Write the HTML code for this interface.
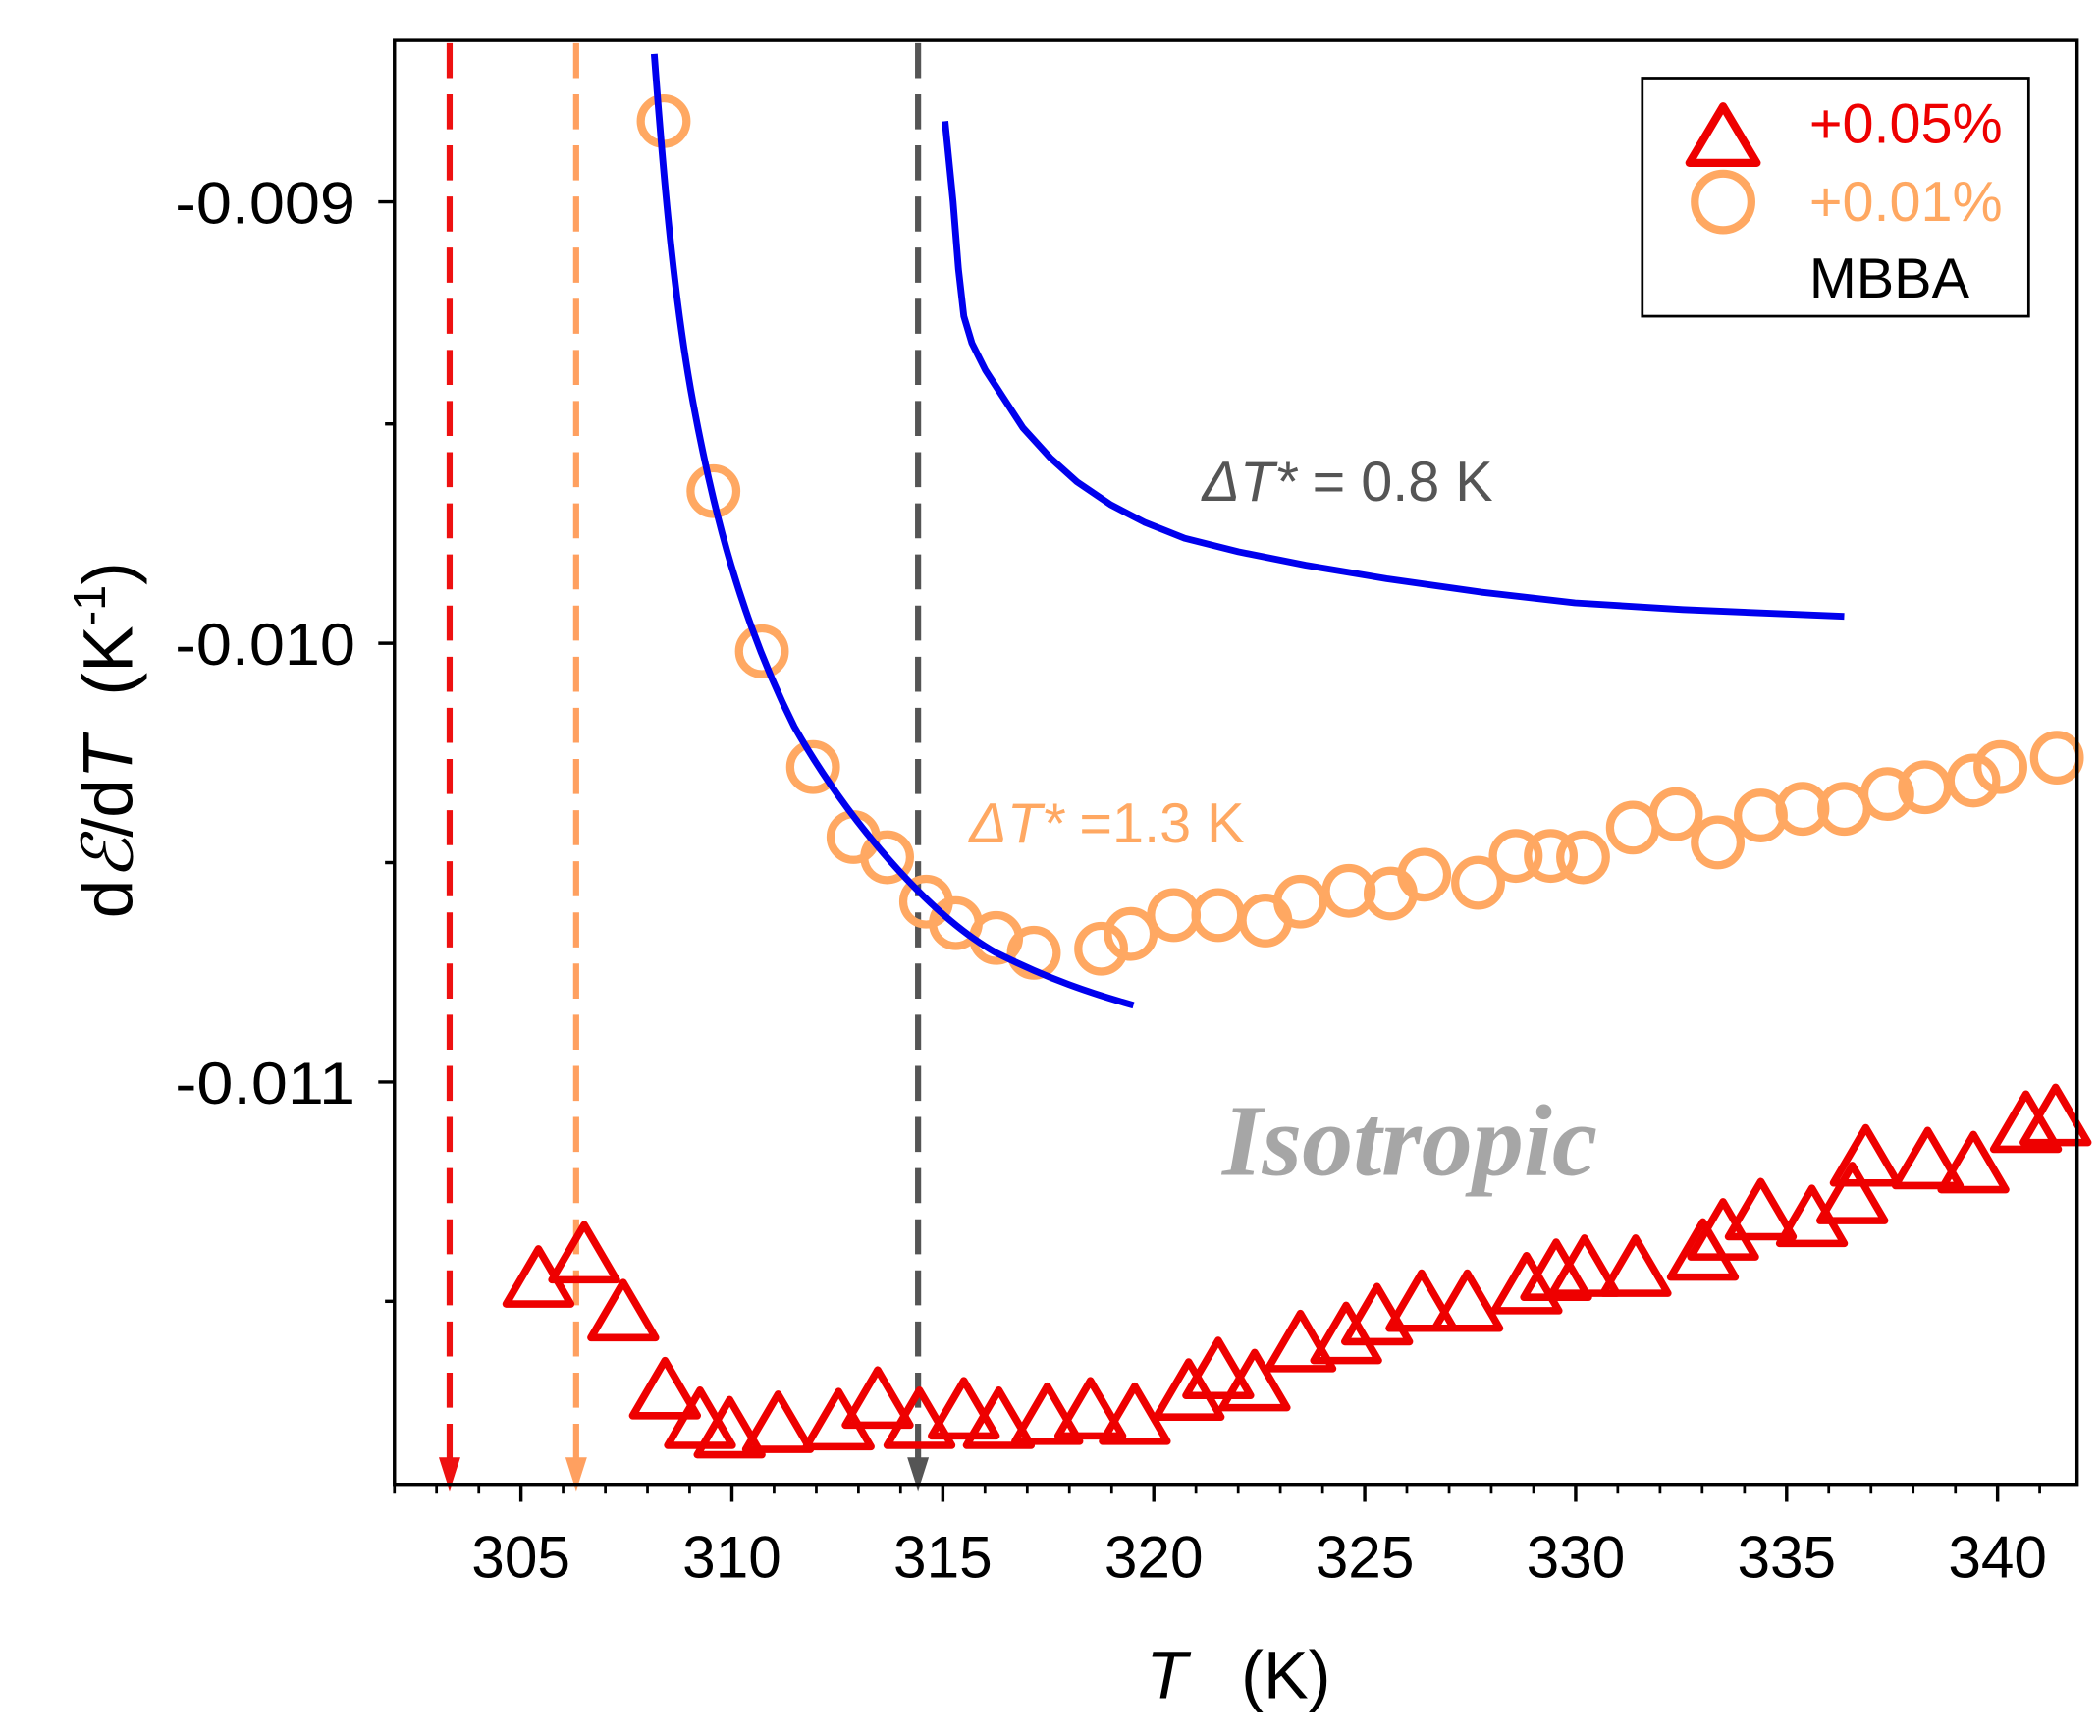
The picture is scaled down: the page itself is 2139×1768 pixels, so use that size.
<!DOCTYPE html>
<html><head><style>html,body{margin:0;padding:0;background:#fff}svg{display:block}</style></head>
<body>
<svg width="2139" height="1768" viewBox="0 0 1560 1290" preserveAspectRatio="none" xmlns="http://www.w3.org/2000/svg" font-family="Liberation Sans, Arial, sans-serif">
<rect x="0" y="0" width="1560" height="1290" fill="#fff"/>
<g stroke-width="4.5" stroke-dasharray="26,12" fill="none">
<line x1="334" y1="32" x2="334" y2="1090" stroke="#ee1111"/>
<line x1="428" y1="32" x2="428" y2="1090" stroke="#ffa060"/>
<line x1="682" y1="32" x2="682" y2="1090" stroke="#555"/>
</g>
<polygon points="326,1083 342,1083 334,1108" fill="#ee1111"/>
<polygon points="420,1083 436,1083 428,1108" fill="#ffa060"/>
<polygon points="674,1083 690,1083 682,1108" fill="#555"/>
<g fill="none" stroke="#ffa862" stroke-width="6">
<circle cx="493" cy="90" r="17"/><circle cx="530" cy="365" r="17"/><circle cx="566" cy="484" r="17"/><circle cx="604" cy="570" r="17"/><circle cx="634" cy="622" r="17"/><circle cx="659" cy="637" r="17"/><circle cx="688" cy="670" r="17"/><circle cx="710" cy="686" r="17"/><circle cx="740" cy="697" r="17"/><circle cx="768" cy="708" r="17"/><circle cx="818" cy="705" r="17"/><circle cx="840" cy="694" r="17"/><circle cx="872" cy="680" r="17"/><circle cx="905" cy="680" r="17"/><circle cx="940" cy="684" r="17"/><circle cx="966" cy="670" r="17"/><circle cx="1002" cy="662" r="17"/><circle cx="1033" cy="664" r="17"/><circle cx="1058" cy="650" r="17"/><circle cx="1098" cy="656" r="17"/><circle cx="1126" cy="636" r="17"/><circle cx="1152" cy="636" r="17"/><circle cx="1176" cy="637" r="17"/><circle cx="1213" cy="615" r="17"/><circle cx="1245" cy="605" r="17"/><circle cx="1276" cy="626" r="17"/><circle cx="1308" cy="606" r="17"/><circle cx="1339" cy="601" r="17"/><circle cx="1370" cy="601" r="17"/><circle cx="1402" cy="590" r="17"/><circle cx="1430" cy="585" r="17"/><circle cx="1466" cy="580" r="17"/><circle cx="1486" cy="570" r="17"/><circle cx="1528" cy="563" r="17"/>
</g>
<g fill="none" stroke="#ee0000" stroke-width="5.5" stroke-linejoin="round">
<path d="M400,928 l-24,41 h48z"/><path d="M434,910 l-24,41 h48z"/><path d="M463,953 l-24,41 h48z"/><path d="M494,1011 l-24,41 h48z"/><path d="M520,1033 l-24,41 h48z"/><path d="M542,1040 l-24,41 h48z"/><path d="M578,1036 l-24,41 h48z"/><path d="M623,1034 l-24,41 h48z"/><path d="M652,1018 l-24,41 h48z"/><path d="M683,1033 l-24,41 h48z"/><path d="M716,1026 l-24,41 h48z"/><path d="M742,1033 l-24,41 h48z"/><path d="M778,1030 l-24,41 h48z"/><path d="M810,1026 l-24,41 h48z"/><path d="M843,1030 l-24,41 h48z"/><path d="M883,1012 l-24,41 h48z"/><path d="M905,996 l-24,41 h48z"/><path d="M932,1005 l-24,41 h48z"/><path d="M966,976 l-24,41 h48z"/><path d="M1000,970 l-24,41 h48z"/><path d="M1023,956 l-24,41 h48z"/><path d="M1056,946 l-24,41 h48z"/><path d="M1090,946 l-24,41 h48z"/><path d="M1134,933 l-24,41 h48z"/><path d="M1156,923 l-24,41 h48z"/><path d="M1177,920 l-24,41 h48z"/><path d="M1215,920 l-24,41 h48z"/><path d="M1265,908 l-24,41 h48z"/><path d="M1280,893 l-24,41 h48z"/><path d="M1308,878 l-24,41 h48z"/><path d="M1346,883 l-24,41 h48z"/><path d="M1376,866 l-24,41 h48z"/><path d="M1386,838 l-24,41 h48z"/><path d="M1432,840 l-24,41 h48z"/><path d="M1466,843 l-24,41 h48z"/><path d="M1505,813 l-24,41 h48z"/><path d="M1527,808 l-24,41 h48z"/>
</g>
<g fill="none" stroke="#0000ee" stroke-width="5" stroke-linejoin="round">
<path d="M486,40 C492,120 500,220 515,300 C530,380 550,460 590,540 C630,610 690,680 740,708 C780,728 810,738 842,747"/>
<polyline points="702,90 708,150 712,200 716,235 722,255 732,275 745,295 760,318 780,340 800,358 825,375 850,388 880,400 920,410 970,420 1030,430 1100,440 1170,448 1250,453 1370,458"/>
</g>
<rect x="293" y="30" width="1250" height="1073" fill="none" stroke="#000" stroke-width="2.5"/>
<g stroke="#000" stroke-width="2.5">
<line x1="293" y1="150" x2="281" y2="150"/><line x1="293" y1="478" x2="281" y2="478"/><line x1="293" y1="804" x2="281" y2="804"/>
<line x1="293" y1="315" x2="286" y2="315"/><line x1="293" y1="641" x2="286" y2="641"/><line x1="293" y1="967" x2="286" y2="967"/>
<line x1="387" y1="1103" x2="387" y2="1116"/><line x1="543.7" y1="1103" x2="543.7" y2="1116"/><line x1="700.4" y1="1103" x2="700.4" y2="1116"/><line x1="857.1" y1="1103" x2="857.1" y2="1116"/><line x1="1013.8" y1="1103" x2="1013.8" y2="1116"/><line x1="1170.5" y1="1103" x2="1170.5" y2="1116"/><line x1="1327.2" y1="1103" x2="1327.2" y2="1116"/><line x1="1483.9" y1="1103" x2="1483.9" y2="1116"/>
</g>
<path stroke="#000" stroke-width="2" d="M293.0,1103v7M324.3,1103v7M355.7,1103v7M418.3,1103v7M449.7,1103v7M481.0,1103v7M512.3,1103v7M575.0,1103v7M606.4,1103v7M637.7,1103v7M669.0,1103v7M731.7,1103v7M763.1,1103v7M794.4,1103v7M825.8,1103v7M888.4,1103v7M919.8,1103v7M951.1,1103v7M982.5,1103v7M1045.1,1103v7M1076.5,1103v7M1107.8,1103v7M1139.2,1103v7M1201.8,1103v7M1233.2,1103v7M1264.5,1103v7M1295.9,1103v7M1358.5,1103v7M1389.9,1103v7M1421.2,1103v7M1452.6,1103v7M1515.2,1103v7"/>
<g font-size="44" text-anchor="end" fill="#000">
<text x="264" y="166" textLength="134" lengthAdjust="spacingAndGlyphs">-0.009</text><text x="264" y="494" textLength="134" lengthAdjust="spacingAndGlyphs">-0.010</text><text x="264" y="820" textLength="134" lengthAdjust="spacingAndGlyphs">-0.011</text>
</g>
<g font-size="44" text-anchor="middle" fill="#000">
<text x="387" y="1172">305</text><text x="543.7" y="1172">310</text><text x="700.4" y="1172">315</text><text x="857.1" y="1172">320</text><text x="1013.8" y="1172">325</text><text x="1170.5" y="1172">330</text><text x="1327.2" y="1172">335</text><text x="1483.9" y="1172">340</text>
</g>
<text x="920" y="1262" font-size="50" text-anchor="middle"><tspan font-style="italic">T</tspan><tspan dx="40">(K)</tspan></text>
<text transform="translate(98,550) rotate(-90)" font-size="52" text-anchor="middle">d<tspan font-style="italic">ℰ</tspan>/d<tspan font-style="italic">T</tspan><tspan dx="30">(K</tspan><tspan font-size="34" dy="-20">-1</tspan><tspan dy="20">)</tspan></text>
<text x="893" y="372" font-size="42" fill="#555"><tspan font-style="italic">ΔT*</tspan> = 0.8 K</text>
<text x="720" y="626" font-size="42" fill="#ffa862"><tspan font-style="italic">ΔT*</tspan> =1.3 K</text>
<text x="908" y="873" font-size="76" font-weight="bold" font-style="italic" fill="#a6a6a6" font-family="Liberation Serif, serif">Isotropic</text>
<rect x="1220" y="58" width="287" height="177" fill="#fff" stroke="#000" stroke-width="2"/>
<path d="M1280,79 l-25,42 h50z" fill="none" stroke="#ee0000" stroke-width="6" stroke-linejoin="round"/>
<circle cx="1280" cy="150" r="21" fill="none" stroke="#ffa862" stroke-width="6"/>
<text x="1344" y="106" font-size="42" fill="#ee0000">+0.05%</text>
<text x="1344" y="164" font-size="42" fill="#ffa862">+0.01%</text>
<text x="1344" y="221" font-size="42" fill="#000">MBBA</text>
</svg>
</body></html>
